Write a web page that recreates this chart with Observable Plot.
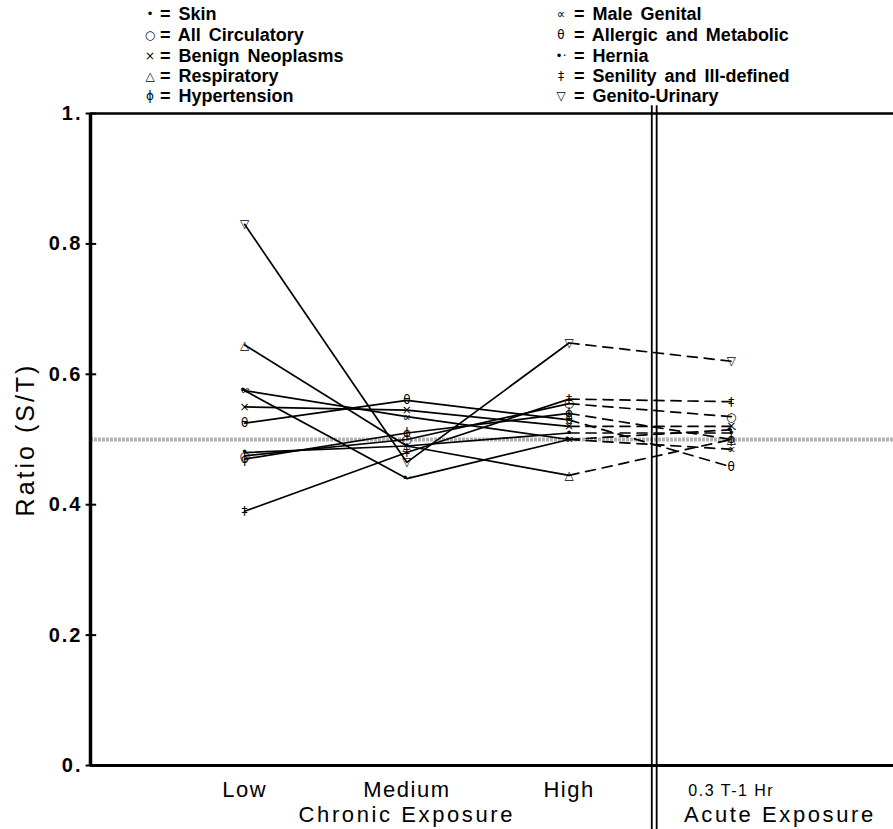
<!DOCTYPE html>
<html>
<head>
<meta charset="utf-8">
<script src="https://cdn.jsdelivr.net/npm/d3@7"></script>
<script src="https://cdn.jsdelivr.net/npm/@observablehq/plot@0.6"></script>
<style>
  body { margin: 0; background: #fff; width: 893px; height: 829px; overflow: hidden; }
  #legend { position: relative; height: 100px; font-family: "Liberation Sans", Arial, sans-serif; font-weight: bold; font-size: 18px; color: #000; word-spacing: 3px; }
  .item { position: absolute; white-space: nowrap; line-height: 20px; }
  .sym { position: absolute; white-space: nowrap; line-height: 20px; width: 16px; text-align: center; font-family: "DejaVu Sans", sans-serif; font-weight: normal; font-size: 12px; }
  #chart svg { display: block; overflow: visible; }
</style>
</head>
<body>
<div id="legend"></div>
<div id="chart"></div>
<script>
// ---- data ----
const categories = ["Low", "Medium", "High", "0.3 T-1 Hr"];
const seriesNames = ["Skin", "All Circulatory", "Benign Neoplasms", "Respiratory", "Hypertension",
  "Male Genital", "Allergic and Metabolic", "Hernia", "Senility and Ill-defined", "Genito-Urinary"];
const symbols = ["•", "○", "×", "△", "ϕ", "∝", "θ", "•·", "‡", "▽"];

const skin          = [0.48, 0.49, 0.51, 0.51];
const circulatory   = [0.475, 0.50, 0.555, 0.535];
const benign        = [0.55, 0.545, 0.52, 0.52];
const respiratory   = [0.645, 0.49, 0.445, 0.50];
const hypertension  = [0.47, 0.51, 0.54, 0.50];
const maleGenital   = [0.575, 0.535, 0.50, 0.485];
const allergic      = [0.525, 0.56, 0.53, 0.458];
const hernia        = [0.575, 0.44, 0.50, 0.515];
const senility      = [0.39, 0.48, 0.562, 0.558];
const genitoUrinary = [0.83, 0.465, 0.648, 0.62];

const yTicks = [0, 0.2, 0.4, 0.6, 0.8, 1];
const referenceRatio = 0.5;
const divider = [3.51, 3.54];
const xTitles = [{label: "Chronic Exposure", at: 2}, {label: "Acute Exposure", at: 4.3}];

const allSeries = [skin, circulatory, benign, respiratory, hypertension, maleGenital, allergic, hernia, senility, genitoUrinary];
const rows = [];
allSeries.forEach((vals, s) => vals.forEach((v, i) => rows.push({series: seriesNames[s], sym: symbols[s], x: i + 1, y: v})));
const chronic = rows.filter(d => d.x <= 3);
const acute = rows.filter(d => d.x >= 3);

// ---- legend ----
const legend = document.getElementById("legend");
const legendRowsY = [14, 35, 56, 76, 96];
seriesNames.forEach((n, i) => {
  const col = i < 5 ? 0 : 1;
  const cy = legendRowsY[i % 5];
  const s = document.createElement("div");
  s.className = "sym";
  s.style.left = (col ? 553 : 142) + "px";
  s.style.top = (cy - 10) + "px";
  s.textContent = symbols[i];
  legend.appendChild(s);
  const el = document.createElement("div");
  el.className = "item";
  el.style.left = (col ? 574 : 160) + "px";
  el.style.top = (cy - 10) + "px";
  el.textContent = "= " + n;
  legend.appendChild(el);
});

// ---- chart ----
const chart = Plot.plot({
  width: 893,
  height: 729,
  marginLeft: 90,
  marginRight: 0,
  marginTop: 13,
  marginBottom: 64,
  x: {domain: [0.05, 5]},
  y: {domain: [0, 1]},
  style: {fontFamily: "Liberation Sans, Arial, sans-serif", color: "#000", background: "#fff"},
  marks: [
    Plot.ruleY([referenceRatio], {x1: 0.05, x2: 5, stroke: "#b3b3b3", strokeWidth: 4, strokeDasharray: "3,1"}),
    Plot.ruleY([1], {x1: 0.05, x2: 5, stroke: "#000", strokeWidth: 2.5}),
    Plot.ruleY([0], {x1: 0.05, x2: 5, stroke: "#000", strokeWidth: 3}),
    Plot.ruleX([0.05], {y1: 0, y2: 1, stroke: "#000", strokeWidth: 3.5}),
    Plot.ruleX(divider, {y1: 1.012, y2: -0.1, stroke: "#000", strokeWidth: 1.8, clip: false}),
    Plot.link(yTicks, {x1: 0.02, x2: 0.085, y1: d => d, y2: d => d, stroke: "#000", strokeWidth: 2}),
    Plot.axisY({ticks: yTicks, tickSize: 0, tickPadding: 8, fontSize: 20, fontWeight: "bold",
      tickFormat: d => d === 0 ? "0." : d === 1 ? "1." : d.toFixed(1),
      label: "Ratio (S/T)", labelAnchor: "center", labelArrow: "none", labelOffset: 74}),
    Plot.axisX({ticks: [1, 2, 3], tickSize: 0, tickPadding: 16, fontSize: 22, tickFormat: d => categories[d - 1], label: null}),
    Plot.axisX({ticks: [4], tickSize: 0, tickPadding: 19, fontSize: 16, tickFormat: d => categories[d - 1], label: null}),
    Plot.text(xTitles, {x: "at", y: -0.076, text: "label", fontSize: 22, clip: false}),
    Plot.line(chronic, {x: "x", y: "y", z: "series", stroke: "#000", strokeWidth: 1.7}),
    Plot.line(acute, {x: "x", y: "y", z: "series", stroke: "#000", strokeWidth: 1.7, strokeDasharray: "10,7"}),
    Plot.text(rows, {x: "x", y: "y", text: "sym", fontSize: 12, fontFamily: "DejaVu Sans, sans-serif", fill: "#000"})
  ]
});
document.getElementById("chart").appendChild(chart);

// typographic tweaks to match the wide type of the original
chart.querySelectorAll("g[aria-label='y-axis tick label'] text").forEach(t => t.setAttribute("letter-spacing", "2"));
chart.querySelectorAll("g[aria-label='x-axis tick label'] text").forEach(t => t.setAttribute("letter-spacing", "1.5"));
chart.querySelectorAll("g[aria-label='y-axis label'] text").forEach(t => {
  t.setAttribute("font-size", "25"); t.style.fontSize = "25px"; t.setAttribute("font-weight", "normal"); t.setAttribute("letter-spacing", "3");
});
chart.querySelectorAll("g[aria-label='text'] text").forEach(t => {
  if (t.textContent.includes("Exposure")) t.setAttribute("letter-spacing", "2.6");
});
</script>
</body>
</html>
